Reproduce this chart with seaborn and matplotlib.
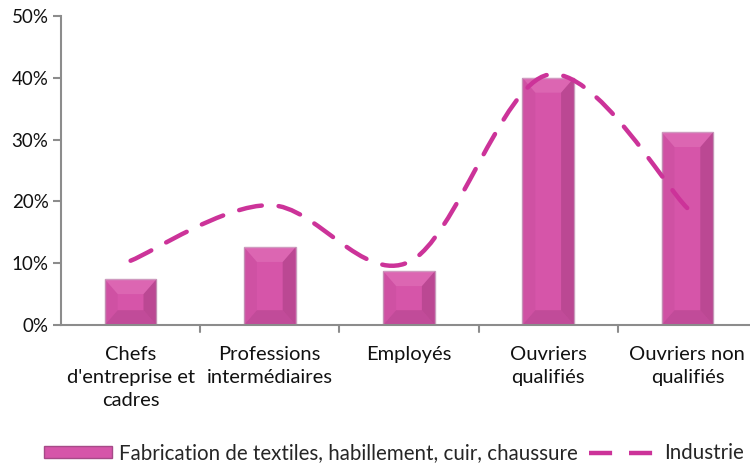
import numpy as np
import pandas as pd
import matplotlib
matplotlib.use("Agg")
import matplotlib.pyplot as plt
import seaborn as sns
from matplotlib.path import Path
from matplotlib.patches import PathPatch, Polygon
from matplotlib.lines import Line2D
from matplotlib.patches import Patch

categories = ["Chefs\nd'entreprise et\ncadres", "Professions\nintermédiaires", "Employés",
              "Ouvriers\nqualifiés", "Ouvriers non\nqualifiés"]
textile = [0.074, 0.126, 0.087, 0.400, 0.312]
industrie = [0.104, 0.194, 0.102, 0.405, 0.189]
yticks = [0, 0.1, 0.2, 0.3, 0.4, 0.5]
ytick_labels = ["0%", "10%", "20%", "30%", "40%", "50%"]
bar_label = "Fabrication de textiles, habillement, cuir, chaussure"
line_label = "Industrie"

bar_color = "#D655A9"
line_color = "#CC3399"
axis_color = "#8C8C8C"

sns.set_theme(style="white")
plt.rcParams["font.family"] = ["Lato", "DejaVu Sans"]

fig = plt.figure(figsize=(7.5, 4.65), dpi=100)
ax = fig.add_axes([61/750, 1-325/465, 696/750, (325-16)/465])

df = pd.DataFrame({"cat": categories, "val": textile})
sns.barplot(data=df, x="cat", y="val", color=bar_color, width=0.37, ax=ax,
            saturation=1, edgecolor="#C99BBC", linewidth=1.0)

# bevel effect derived from bar geometry
for p in list(ax.patches):
    x0, y0 = p.get_x(), p.get_y()
    w, h = p.get_width(), p.get_height()
    bw = w * 0.25
    bh = min(0.024, h * 0.33)
    z = p.get_zorder() + 0.1
    ax.add_patch(Polygon([(x0+w, y0), (x0+w, y0+h), (x0+w-bw, y0+h-bh), (x0+w-bw, y0+bh)],
                         closed=True, facecolor="#7E2C62", alpha=0.3, lw=0, zorder=z))
    ax.add_patch(Polygon([(x0, y0), (x0+w, y0), (x0+w-bw, y0+bh), (x0+bw, y0+bh)],
                         closed=True, facecolor="#8E3470", alpha=0.28, lw=0, zorder=z))
    ax.add_patch(Polygon([(x0, y0+h), (x0+w, y0+h), (x0+w-bw, y0+h-bh), (x0+bw, y0+h-bh)],
                         closed=True, facecolor="#EE9AD0", alpha=0.25, lw=0, zorder=z))
    ax.add_patch(Polygon([(x0, y0), (x0, y0+h), (x0+bw, y0+h-bh), (x0+bw, y0+bh)],
                         closed=True, facecolor="#A93E86", alpha=0.15, lw=0, zorder=z))

# smoothed line (Excel-like Catmull-Rom bezier)
xs = np.arange(len(industrie), dtype=float)
ys = np.array(industrie)
verts = [(xs[0], ys[0])]
codes = [Path.MOVETO]
t = 1/6
for i in range(len(xs)-1):
    p0 = (xs[max(i-1, 0)], ys[max(i-1, 0)])
    p1 = (xs[i], ys[i])
    p2 = (xs[i+1], ys[i+1])
    p3 = (xs[min(i+2, len(xs)-1)], ys[min(i+2, len(xs)-1)])
    c1 = (p1[0] + (p2[0]-p0[0])*t, p1[1] + (p2[1]-p0[1])*t)
    c2 = (p2[0] - (p3[0]-p1[0])*t, p2[1] - (p3[1]-p1[1])*t)
    verts += [c1, c2, p2]
    codes += [Path.CURVE4]*3
dash = (0, (5.2, 3.8))
ax.add_patch(PathPatch(Path(verts, codes), facecolor="none", edgecolor=line_color,
                       lw=3.2, linestyle=dash, capstyle="round", zorder=5))

ax.set_xlim(-0.5, 4.5)
ax.set_ylim(0, 0.5)
ax.set_yticks(yticks)
ax.set_yticklabels(ytick_labels, fontsize=13.5, color="#111111")
ax.set_xticks(range(len(categories)))
ax.set_xticklabels(categories, fontsize=14.5, color="#111111", linespacing=1.45)
ax.set_xlabel("")
ax.set_ylabel("")

for s in ["top", "right"]:
    ax.spines[s].set_visible(False)
for s in ["left", "bottom"]:
    ax.spines[s].set_color(axis_color)
    ax.spines[s].set_linewidth(1.5)

ax.tick_params(axis="y", left=True, length=6, width=1.5, color=axis_color, pad=3)
ax.tick_params(axis="x", bottom=False, pad=9)
for b in np.arange(0.5, 4.5, 1.0):
    ax.plot([b, b], [0, -0.012], color=axis_color, lw=1.5, clip_on=False)

handles = [Patch(facecolor=bar_color, edgecolor="#A64A88", linewidth=1.0),
           Line2D([0], [0], color=line_color, lw=3.2, linestyle=dash)]
fig.legend(handles, [bar_label, line_label], loc="center", bbox_to_anchor=(0.525, 0.025),
           ncol=2, frameon=False, fontsize=14.8, handlelength=3.3, handleheight=0.55,
           handletextpad=0.34, columnspacing=0.58, borderaxespad=0, borderpad=0)

fig.savefig("out.png", dpi=100)
